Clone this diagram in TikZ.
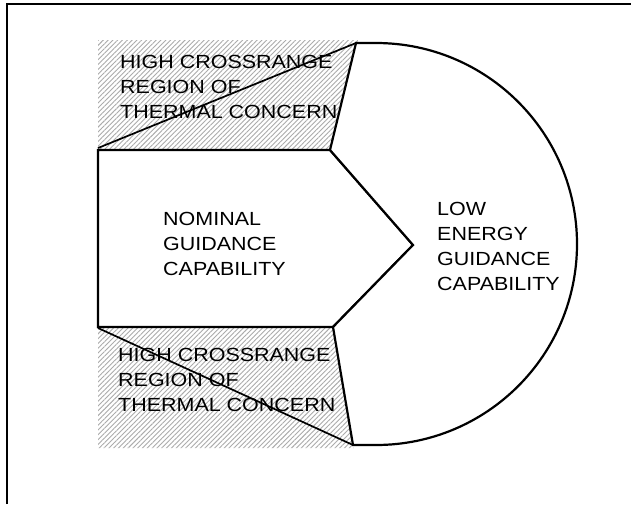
\documentclass[tikz,border=0pt]{standalone}
\usepackage{fontspec}
\setmainfont{Liberation Sans}[FakeStretch=1.13]
\usetikzlibrary{patterns.meta}
\begin{document}
\begin{tikzpicture}[x=1pt,y=-1pt,
  edge/.style={line width=2.2pt,line join=miter},
  thin edge/.style={line width=1.7pt},
  hatch/.style={pattern={Lines[angle=45,distance=3.4pt,line width=0.9pt]},pattern color=black!33},
  lbl/.style={anchor=base west,align=left,inner sep=0pt,font=\fontsize{19}{25}\selectfont}]
\useasboundingbox (0,0) rectangle (631,504);
\fill[white] (0,0) rectangle (631,504);
% frame (only top and left visible)
\draw[line width=2.5pt] (7,504) -- (7,4) -- (631,4);
% vertices
\coordinate (ntl) at (98,150);
\coordinate (ntr) at (330,150);
\coordinate (tip) at (413,245);
\coordinate (nbr) at (333,327);
\coordinate (nbl) at (98,327);
\coordinate (ttop) at (356,43);
\coordinate (atop) at (376,43);
\coordinate (bbot) at (353,445);
\coordinate (dtl) at (98,148);
\coordinate (dbl) at (98,328);
% hatched regions
\fill[hatch] (98,40) -- (358,40) -- (ntr) -- (ntl) -- cycle;
\fill[hatch] (nbl) -- (nbr) -- (354,448) -- (98,448) -- cycle;
% nominal region
\draw[edge,fill=white] (ntl) -- (ntr) -- (tip) -- (nbr) -- (nbl) -- cycle;
% low energy region
\draw[edge,fill=white] (ttop) -- (atop) arc[start angle=-90,end angle=90,radius=201] -- (bbot) -- (nbr) -- (tip) -- (ntr) -- cycle;
% labels (anchored at baseline of last line)
\node[lbl] (top) at (120,118.5) {HIGH CROSSRANGE\\REGION OF\\THERMAL CONCERN};
\node[lbl] (bot) at (118,411.5) {HIGH CROSSRANGE\\REGION OF\\THERMAL CONCERN};
\node[lbl] (nom) at (163,275) {NOMINAL\\GUIDANCE\\CAPABILITY};
\node[lbl] (low) at (437,290) {LOW\\ENERGY\\GUIDANCE\\CAPABILITY};
% diagonal boundaries over text
\draw[thin edge] (dtl) -- (ttop);
\draw[thin edge] (dbl) -- (bbot);
\end{tikzpicture}
\end{document}
